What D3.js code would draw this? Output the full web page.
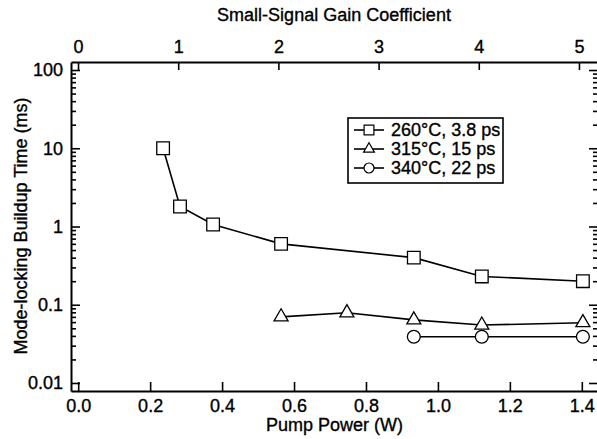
<!DOCTYPE html>
<html>
<head>
<meta charset="utf-8">
<script src="https://cdn.jsdelivr.net/npm/d3@7"></script>
<style>
    body { margin: 0; background: #fff; }
    text { font-family: 'Liberation Sans', Arial, sans-serif; }
</style>
</head>
<body>
<div id="chart"></div>
<script>
// values
var pump260 = [0.236, 0.283, 0.375, 0.564, 0.933, 1.122, 1.403];
var time260 = [10, 1.8, 1.06, 0.6, 0.40, 0.23, 0.20];
var pump315 = [0.564, 0.747, 0.933, 1.122, 1.403];
var time315 = [0.070, 0.079, 0.064, 0.055, 0.059];
var pump340 = [0.933, 1.122, 1.403];
var time340 = [0.039, 0.039, 0.039];

var seriesNames = ['260°C, 3.8 ps', '315°C, 15 ps', '340°C, 22 ps'];
var pumpTicks = [0, 0.2, 0.4, 0.6, 0.8, 1.0, 1.2, 1.4];
var gainTicks = [0, 1, 2, 3, 4, 5];
var timeTicks = [0.01, 0.1, 1, 10, 100];
var timeTickLabels = ['0.01', '0.1', '1', '10', '100'];

var margin = { top: 62, right: -1, bottom: 48, left: 71 };
var width = 597 - margin.left - margin.right;
var height = 439 - margin.top - margin.bottom;
var fontSize = '18px';

var x = d3.scaleLinear().domain([-0.02, 1.445]).range([0, width]);
var xTop = d3.scaleLinear().domain([-0.07, 5.19]).range([0, width]);
var y = d3.scaleLog().domain([0.0079, 126.6]).range([height, 0]);

var minorTicks = [];
[0.01, 0.1, 1, 10].forEach(function (d) {
    for (var k = 2; k <= 9; k++) minorTicks.push(d * k);
});

var svg = d3.select('#chart')
    .append('svg')
    .attr('width', 597)
    .attr('height', 439);

var g = svg.append('g')
    .attr('transform', `translate(${margin.left}, ${margin.top})`);

function inkText(sel) {
    sel.attr('fill', '#000')
        .attr('stroke', '#000')
        .attr('stroke-width', 0.35)
        .style('font-size', fontSize)
        .style('font-family', "'Liberation Sans', Arial, sans-serif");
}

function styleAxis(sel) {
    sel.select('.domain').attr('stroke', '#000').attr('stroke-width', 2);
    sel.selectAll('.tick line').attr('stroke', '#000').attr('stroke-width', 1.6);
    sel.selectAll('.tick text').call(inkText);
}

g.append('g')
    .attr('transform', `translate(0, ${height})`)
    .call(d3.axisBottom(x).tickValues(pumpTicks).tickFormat(d3.format('.1f'))
        .tickSize(-9).tickSizeOuter(0).tickPadding(8))
    .call(styleAxis);

g.append('g')
    .call(d3.axisTop(xTop).tickValues(gainTicks).tickFormat(d3.format('d'))
        .tickSize(-8).tickSizeOuter(0).tickPadding(9))
    .call(styleAxis);

g.append('g')
    .call(d3.axisLeft(y).tickValues(timeTicks)
        .tickFormat((d, i) => timeTickLabels[i])
        .tickSize(-9).tickSizeOuter(0).tickPadding(8))
    .call(styleAxis);

g.append('g')
    .call(d3.axisLeft(y).tickValues(minorTicks).tickFormat('')
        .tickSize(-5).tickSizeOuter(0))
    .call(styleAxis)
    .select('.domain').remove();

// right spine sits just past the picture edge, only its ticks show
g.append('g')
    .attr('transform', `translate(${width}, 0)`)
    .call(d3.axisRight(y).tickValues(timeTicks).tickFormat('')
        .tickSize(-9).tickSizeOuter(0))
    .call(styleAxis)
    .select('.domain').remove();

g.append('g')
    .attr('transform', `translate(${width}, 0)`)
    .call(d3.axisRight(y).tickValues(minorTicks).tickFormat('')
        .tickSize(-5).tickSizeOuter(0))
    .call(styleAxis)
    .select('.domain').remove();

// axis titles
svg.append('text')
    .attr('x', 334)
    .attr('y', 21)
    .attr('text-anchor', 'middle')
    .call(inkText)
    .text('Small-Signal Gain Coefficient');

svg.append('text')
    .attr('x', 334.5)
    .attr('y', 431)
    .attr('text-anchor', 'middle')
    .call(inkText)
    .text('Pump Power (W)');

svg.append('text')
    .attr('transform', 'rotate(-90)')
    .attr('x', -226)
    .attr('y', 27)
    .attr('text-anchor', 'middle')
    .call(inkText)
    .text('Mode-locking Buildup Time (ms)');

// series
var series = [
    { pump: pump260, time: time260, symbol: d3.symbolSquare, size: 160 },
    { pump: pump315, time: time315, symbol: d3.symbolTriangle, size: 85 },
    { pump: pump340, time: time340, symbol: d3.symbolCircle, size: 130 }
];

var line = d3.line()
    .x(d => x(d[0]))
    .y(d => y(d[1]));

series.forEach(function (s) {
    var pts = s.pump.map((p, i) => [p, s.time[i]]);
    g.append('path')
        .datum(pts)
        .attr('fill', 'none')
        .attr('stroke', '#000')
        .attr('stroke-width', 1.6)
        .attr('d', line);
    g.selectAll(null)
        .data(pts)
        .enter()
        .append('path')
        .attr('transform', d => `translate(${x(d[0])}, ${y(d[1])})`)
        .attr('d', d3.symbol().type(s.symbol).size(s.size))
        .attr('fill', '#fff')
        .attr('stroke', '#000')
        .attr('stroke-width', 1.3);
});

// legend
var legend = svg.append('g').attr('transform', 'translate(348, 118)');
legend.append('rect')
    .attr('width', 155)
    .attr('height', 65)
    .attr('fill', '#fff')
    .attr('stroke', '#000')
    .attr('stroke-width', 1.6);

series.forEach(function (s, i) {
    var row = legend.append('g').attr('transform', `translate(0, ${12 + i * 19})`);
    row.append('line')
        .attr('x1', 6).attr('x2', 36)
        .attr('stroke', '#000')
        .attr('stroke-width', 1.6);
    row.append('path')
        .attr('transform', 'translate(21, 0)')
        .attr('d', d3.symbol().type(s.symbol).size(s.size * 0.6))
        .attr('fill', '#fff')
        .attr('stroke', '#000')
        .attr('stroke-width', 1.2);
    row.append('text')
        .attr('x', 43)
        .attr('y', 6)
        .call(inkText)
        .text(seriesNames[i]);
});
</script>
</body>
</html>
